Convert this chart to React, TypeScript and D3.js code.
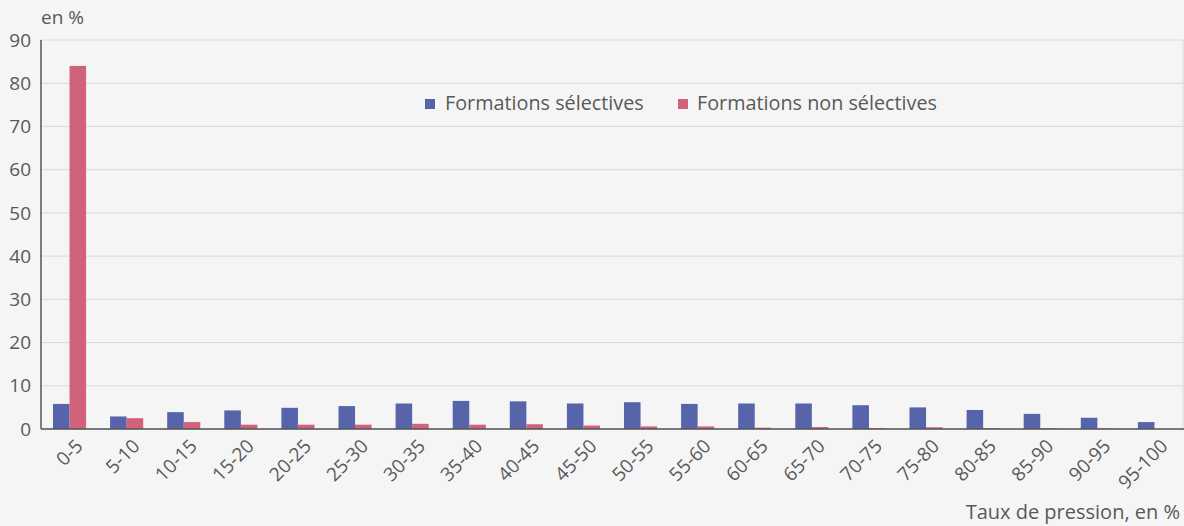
import React from "react";
import * as d3 from "d3";

const categories = ["0-5","5-10","10-15","15-20","20-25","25-30","30-35","35-40","40-45","45-50","50-55","55-60","60-65","65-70","70-75","75-80","80-85","85-90","90-95","95-100"];
const selectives = [5.8,2.9,3.9,4.3,4.9,5.3,5.9,6.5,6.4,5.9,6.2,5.8,5.9,5.9,5.5,5.0,4.4,3.5,2.6,1.6];
const nonSelectives = [84.0,2.5,1.6,1.0,1.0,1.0,1.2,1.0,1.1,0.8,0.6,0.6,0.3,0.45,0.2,0.4,0.2,0.2,0.1,0.0];
const yTicks = [0,10,20,30,40,50,60,70,80,90];
const seriesNames = ["Formations sélectives","Formations non sélectives"];
const colors = ["#5864aa","#d0627a"];

export default function App() {
  const W = 1184, H = 526;
  const left = 41, right = 1183, top = 40, bottom = 429;
  const x = d3.scaleBand<string>().domain(categories).range([left, right]).paddingInner(0.42).paddingOuter(0.21);
  const y = d3.scaleLinear().domain([0, 90]).range([bottom, top]);
  const bw = x.bandwidth() / 2;
  const font = "'Open Sans', sans-serif";
  const txt = "#595959";
  return (
    <div style={{ position: "fixed", left: 0, top: 0, width: W, height: H, overflow: "hidden" }}>
      <svg width={W} height={H} style={{ display: "block", background: "#f5f5f5", fontFamily: font }}>
        <rect x={0} y={0} width={W} height={H} fill="#f5f5f5" />
        {yTicks.map((t) => (
          <g key={t}>
            <line x1={left} x2={right} y1={y(t)} y2={y(t)} stroke="#d9d9d9" strokeWidth={1} />
            <text x={31} y={y(t)} dy="0.35em" textAnchor="end" fontSize={19} fill={txt}>{t}</text>
          </g>
        ))}
        <line x1={right} x2={right} y1={top} y2={bottom} stroke="#d9d9d9" />
        <text x={41} y={24} fontSize={19} fill={txt}>en %</text>
        {categories.map((c, i) => (
          <g key={c}>
            <rect x={x(c)!} y={y(selectives[i])} width={bw} height={bottom - y(selectives[i])} fill={colors[0]} />
            <rect x={x(c)! + bw} y={y(nonSelectives[i])} width={bw} height={bottom - y(nonSelectives[i])} fill={colors[1]} />
            <text
              transform={`translate(${x(c)! + bw + 5},${bottom + 9}) rotate(-45)`}
              textAnchor="end"
              dy="0.7em"
              fontSize={19}
              fill={txt}
            >{c}</text>
          </g>
        ))}
        <line x1={left} x2={left} y1={top} y2={bottom} stroke="#555" strokeWidth={1.5} />
        <line x1={left} x2={right + 1} y1={bottom} y2={bottom} stroke="#555" strokeWidth={1.5} />
        <g>
          <rect x={425} y={99} width={10} height={10} fill={colors[0]} />
          <text x={445} y={110} fontSize={19.8} fill={txt}>{seriesNames[0]}</text>
          <rect x={678} y={99} width={10} height={10} fill={colors[1]} />
          <text x={697} y={110} fontSize={19.8} fill={txt}>{seriesNames[1]}</text>
        </g>
        <text x={1180} y={519} textAnchor="end" fontSize={20} fill={txt}>Taux de pression, en %</text>
      </svg>
    </div>
  );
}
